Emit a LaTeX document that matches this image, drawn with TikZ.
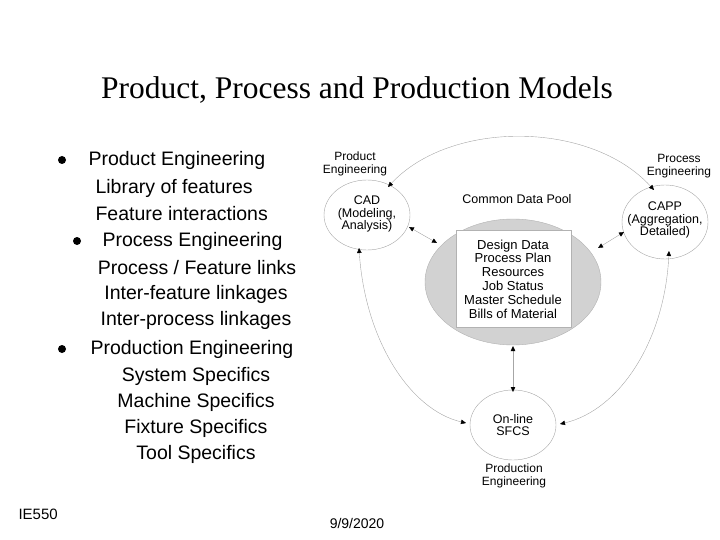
\documentclass[tikz,border=0pt]{standalone}
\usepackage{fontspec}
\setmainfont{Liberation Sans}
\newfontfamily\titlefont{Liberation Serif}
\usetikzlibrary{arrows.meta}
\begin{document}
\begin{tikzpicture}[x=1pt,y=-1pt,
  txt/.style={font=\fontsize{19.5}{22}\selectfont},
  dtxt/.style={font=\fontsize{12}{13}\selectfont,align=center,inner sep=0pt},
  ell/.style={draw=gray!70,line width=0.4pt},
  con/.style={draw=gray!70,line width=0.4pt,{Triangle[length=5pt,width=4.5pt,color=black]}-{Triangle[length=5pt,width=4.5pt,color=black]}},
  bul/.style={circle,fill=black,inner sep=0pt,minimum size=8pt}]
\useasboundingbox (0,0) rectangle (720,540);
\node[font=\titlefont\fontsize{31.5}{34}\selectfont] (title) at (357,90) {Product, Process and Production Models};
\node[bul] (b1) at (62,160) {};
\node[txt,anchor=west] (t1) at (85,160) {Product Engineering};
\node[txt,anchor=west] (t2) at (92,188) {Library of features};
\node[txt,anchor=west] (t3) at (92,214) {Feature interactions};
\node[bul] (b2) at (77,241) {};
\node[txt,anchor=west] (t4) at (99,241) {Process Engineering};
\node[txt] (t5) at (197,268) {Process / Feature links};
\node[txt] (t6) at (196,294) {Inter-feature linkages};
\node[txt] (t7) at (196,320) {Inter-process linkages};
\node[bul] (b3) at (62,349) {};
\node[txt,anchor=west] (t8) at (87,349) {Production Engineering};
\node[txt] (t9) at (196,376) {System Specifics};
\node[txt] (t10) at (196,402) {Machine Specifics};
\node[txt] (t11) at (196,428) {Fixture Specifics};
\node[txt] (t12) at (196,454) {Tool Specifics};
\node[font=\fontsize{15}{16}\selectfont,anchor=west] (ie) at (15,514) {IE550};
\node[font=\fontsize{14}{15}\selectfont] (date) at (357,523) {9/9/2020};
% diagram
\fill[gray!35,draw=gray!60] (513,282) ellipse (88 and 63);
\node[fill=white,draw=gray!60,minimum width=115pt,minimum height=97pt] (box) at (513.5,278.5) {};
\node[dtxt,font=\fontsize{13}{13.8}\selectfont] (data) at (513,279) {Design Data\\Process Plan\\Resources\\Job Status\\Master Schedule\\Bills of Material};
\draw[ell] (367,215) ellipse (43 and 35);
\draw[ell] (665,222) ellipse (43 and 37);
\draw[ell] (513,425) ellipse (43 and 35);
\node[dtxt,font=\fontsize{12.5}{12.5}\selectfont] (cad) at (367,214) {CAD\\(Modeling,\\Analysis)};
\node[dtxt,font=\fontsize{12.5}{12.5}\selectfont] (capp) at (665,220) {CAPP\\(Aggregation,\\Detailed)};
\node[dtxt,font=\fontsize{12.5}{12.5}\selectfont] (sfcs) at (513,425) {On-line\\SFCS};
\node[dtxt] (pe) at (355,164) {Product\\Engineering};
\node[dtxt] (pre) at (679,166) {Process\\Engineering};
\node[dtxt,font=\fontsize{12.5}{13}\selectfont] (pool) at (517,199) {Common Data Pool};
\node[dtxt] (pde) at (514,476) {Production\\Engineering};
\coordinate (c1) at (388,187);
\coordinate (c2) at (654,190);
\coordinate (c3) at (359,248);
\coordinate (c4) at (466,423);
\coordinate (c5) at (669,251);
\coordinate (c6) at (560,424);
\coordinate (c7) at (409,227);
\coordinate (c8) at (437,243);
\coordinate (c9) at (624,232);
\coordinate (c10) at (598,248);
\coordinate (c11) at (513,346);
\coordinate (c12) at (513,392);
\draw[con] (c1) .. controls (450,120) and (590,120) .. (c2);
\draw[con] (c3) .. controls (365,340) and (410,410) .. (c4);
\draw[con] (c5) .. controls (665,340) and (620,410) .. (c6);
\draw[con] (c7) -- (c8);
\draw[con] (c9) -- (c10);
\draw[con] (c11) -- (c12);
\end{tikzpicture}
\end{document}
